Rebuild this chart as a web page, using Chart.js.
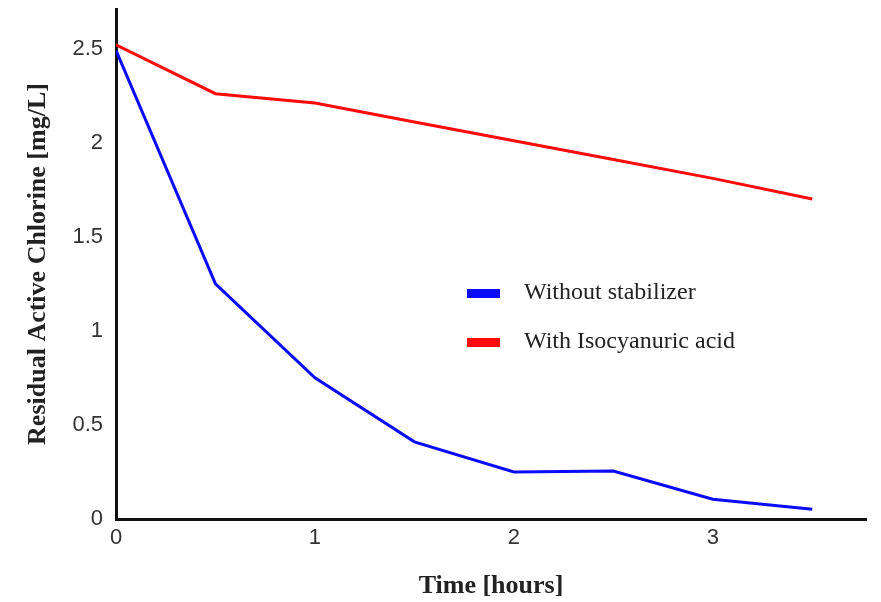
<!DOCTYPE html>
<html>
<head>
<meta charset="utf-8">
<script src="https://cdn.jsdelivr.net/npm/chart.js@4.4.1/dist/chart.umd.min.js"></script>
<style>
  html, body { margin: 0; padding: 0; background: #fff; }
  #wrap { width: 881px; height: 602px; }
</style>
</head>
<body>
<div id="wrap"><canvas id="lineChart" width="881" height="602"></canvas></div>
<script>
// time points (hours)
const hours = [0, 0.5, 1, 1.5, 2, 2.5, 3, 3.5];
// residual active chlorine [mg/L]
const withoutStabilizer = [2.49, 1.25, 0.75, 0.41, 0.25, 0.255, 0.105, 0.052];
const withIsocyanuric = [2.52, 2.26, 2.21, 2.11, 2.01, 1.91, 1.81, 1.70];
const xTicks = [0, 1, 2, 3];
const yTicks = [0, 0.5, 1, 1.5, 2, 2.5];

const toPoints = vals => vals.map((v, i) => ({ x: hours[i], y: v }));

// legend drawn inside the plot, like the original figure
const innerLegend = {
    id: 'innerLegend',
    afterDraw(chart) {
        const ctx = chart.ctx;
        ctx.save();
        ctx.font = '24px "Liberation Serif"';
        ctx.textBaseline = 'middle';
        chart.data.datasets.forEach((ds, i) => {
            const y = 293 + i * 49;
            ctx.fillStyle = ds.borderColor;
            ctx.fillRect(467, y - 4, 33, 9);
            ctx.fillStyle = '#222';
            ctx.fillText(ds.label, 524, y);
        });
        ctx.restore();
    }
};

const canvas = document.getElementById('lineChart');
new Chart(canvas, {
    type: 'line',
    data: {
        datasets: [{
            label: 'Without stabilizer',
            data: toPoints(withoutStabilizer),
            borderColor: '#0a0aff',
            borderWidth: 3,
            pointRadius: 0,
            tension: 0
        }, {
            label: 'With Isocyanuric acid',
            data: toPoints(withIsocyanuric),
            borderColor: '#ff0a0a',
            borderWidth: 3,
            pointRadius: 0,
            tension: 0
        }]
    },
    options: {
        responsive: false,
        animation: false,
        layout: { padding: { left: 23, top: 9, right: 15, bottom: 0 } },
        plugins: {
            legend: { display: false },
            tooltip: { enabled: false }
        },
        scales: {
            x: {
                type: 'linear',
                min: 0,
                max: 3.77,
                grid: { display: false, drawTicks: false },
                border: { display: true, color: '#111', width: 3 },
                afterBuildTicks: s => { s.ticks = xTicks.map(v => ({ value: v })); },
                afterFit: s => { s.height = 83; s.paddingLeft = 0; s.paddingRight = 0; },
                ticks: {
                    padding: 6,
                    color: '#333',
                    font: { family: '"Liberation Sans"', size: 22 },
                    maxRotation: 0,
                    callback: v => String(v)
                },
                title: {
                    display: true,
                    text: 'Time [hours]',
                    color: '#222',
                    padding: { top: 0, bottom: 0 },
                    font: { family: '"Liberation Serif"', size: 26, weight: 'bold' }
                }
            },
            y: {
                min: 0,
                max: 2.71,
                grid: { display: false, drawTicks: false },
                border: { display: true, color: '#111', width: 3 },
                afterBuildTicks: s => { s.ticks = yTicks.map(v => ({ value: v })); },
                afterFit: s => { s.width = 93; s.paddingTop = 0; s.paddingBottom = 0; },
                ticks: {
                    padding: 13,
                    color: '#333',
                    font: { family: '"Liberation Sans"', size: 22 },
                    callback: v => String(v)
                },
                title: {
                    display: true,
                    text: 'Residual Active Chlorine [mg/L]',
                    color: '#222',
                    padding: { top: 0, bottom: 0 },
                    font: { family: '"Liberation Serif"', size: 26, weight: 'bold' }
                }
            }
        }
    },
    plugins: [innerLegend]
});
</script>
</body>
</html>
